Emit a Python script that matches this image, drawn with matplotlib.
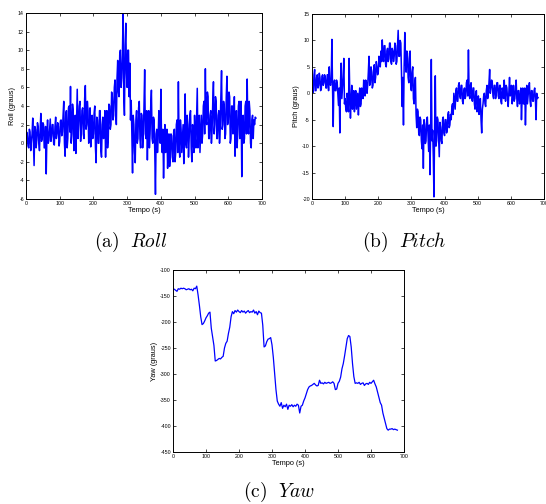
import numpy as np
import matplotlib
matplotlib.use("Agg")
import matplotlib.pyplot as plt

plt.rcParams['font.family'] = ['Liberation Sans', 'DejaVu Sans']
plt.rcParams['axes.unicode_minus'] = False
plt.rcParams['mathtext.fontset'] = 'cm'

fast_step = 2
yaw_step = 4

roll = [0.5, 1.2, 0.8, -0.3, -0.5, 1.5, 1.2, -0.8, 0.2, 1.0, 2.7, 0.3, -2.4, 1.8, 1.5, -0.5, 0.3, 2.2, 1.8, 0.0,
        -0.8, 1.5, 3.2, 0.2, 0.5, 2.2, 2.0, -0.5, -0.5, 1.8, -3.3, 0.8, 2.5, 0.0, 0.3, 1.5, 2.6, 0.2, 0.8, 2.0,
        2.0, 0.0, -0.2, 1.8, 2.8, 0.5, 1.0, 2.2, 1.8, -0.3, 0.2, 2.4, 2.5, 0.8, 1.2, 3.0, 4.5, 0.0, -1.4, 3.2,
        3.5, -0.5, 0.5, 3.8, 4.0, 1.2, 6.1, 0.0, 1.0, 4.2, 3.5, -0.8, 0.8, 3.0, -1.1, 2.5, 5.8, 0.5, 2.0, 4.0,
        4.5, 0.2, 1.5, 3.5, 3.8, 1.0, 0.5, 4.8, 6.2, 1.5, 2.0, 4.5, 3.5, 0.0, 1.0, 3.8, -0.4, 2.5, 3.0, 0.5,
        1.0, 3.2, 4.0, -0.5, -2.1, 2.8, 2.5, 0.0, 0.0, 3.5, 3.5, -0.8, -1.5, 2.0, 2.8, 0.5, 1.0, 3.5, -1.5, 2.2,
        3.5, -0.5, 0.5, 4.2, 4.0, 1.5, 2.0, 5.5, 5.0, 2.5, 3.0, 6.0, 6.8, 3.5, 2.0, 7.0, 8.9, 5.5, 5.0, 9.5,
        10.0, 6.0, 7.0, 9.5, 14.0, 5.0, 3.0, 10.5, 12.9, 7.5, 6.0, 10.0, 10.0, 5.0, 8.6, 2.5, 4.6, 1.0, -3.2, 3.0,
        2.0, -1.0, -2.1, 2.5, 3.5, 0.0, 0.5, 3.8, 4.5, 0.5, -0.5, 3.2, 3.0, -0.5, 1.0, 4.0, 7.9, 1.0, 0.5, 3.5,
        -1.8, 2.0, 3.5, -0.5, 1.0, 4.0, 5.7, 0.5, 0.0, 2.8, 2.5, -1.0, -5.5, 1.0, 1.5, -1.0, 0.5, 3.5, 3.0, 0.0,
        5.8, 0.5, -1.0, 1.5, -3.75, 0.0, 2.0, -1.0, 0.0, 1.5, -2.7, 0.0, 1.0, -2.5, -1.5, 1.0, 0.8, -1.5, -2.0, 1.2,
        1.5, -2.0, -1.0, 2.0, 2.5, -1.0, 6.6, 0.0, -1.5, 2.5, 1.5, -1.0, 0.5, 2.0, -2.2, 0.5, 5.3, 0.0, -0.5, 3.0,
        2.0, -1.5, 0.5, 3.0, 3.5, -0.5, -2.0, 2.0, 1.0, -1.0, 3.0, 0.5, -0.5, 2.5, 5.9, -0.5, 1.5, 3.0, -1.0, 1.0,
        3.0, 0.0, 1.0, 4.0, 4.5, 1.0, 8.0, 2.5, 2.0, 5.5, 5.0, 0.5, 0.5, 3.0, 3.5, 0.0, 1.5, 4.5, 6.6, 1.0,
        2.0, 5.0, 4.5, 0.5, 0.5, 3.0, 3.5, 0.0, 1.5, 5.0, 7.8, 1.5, 2.0, 4.5, 4.0, 0.5, 1.0, 5.0, 7.2, 2.0,
        2.5, 5.5, 5.0, 0.0, 0.5, 4.0, 4.0, 1.0, 2.0, 5.0, -1.4, 2.0, 3.5, -0.5, 1.0, 4.0, 4.5, 0.5, 2.0, 4.5,
        -3.6, 2.0, 3.0, 0.0, 0.5, 4.0, 4.5, 1.0, 6.9, 2.0, 1.0, 4.5, 3.5, 0.0, -0.5, 2.5, 3.0, 0.5, 2.5, 2.0,
        2.8, 2.7]

pitch = [0.5, 1.0, 0.2, 3.5, 4.5, 0.5, 0.5, 3.0, 3.5, 1.0, 1.5, 3.8, 3.0, 0.5, 0.8, 3.2, 3.5, 1.5, 2.0, 3.5,
         3.0, 1.0, 1.0, 3.5, 3.5, 0.5, 5.0, 2.0, 1.5, 2.5, 10.2, 1.0, -6.3, 2.0, 2.5, 0.5, 0.5, 2.5, 2.0, 0.0,
         -2.3, 1.0, -7.5, 2.0, 5.7, -1.0, 1.0, 3.0, 6.6, -2.0, -1.0, -3.0, -3.5, 0.0, -1.0, -3.5, 6.6, 0.0, -4.7, -1.0,
         1.5, -3.0, -2.0, 0.5, -3.5, -1.0, 0.5, -3.0, -1.5, 0.0, -4.1, -1.0, 1.0, -2.5, -2.0, 1.0, 0.5, -1.0, 2.5, 0.0,
         -0.5, 2.5, 2.0, 0.0, 1.5, 4.0, 7.0, 1.5, 2.0, 5.0, 4.0, 1.0, 1.5, 4.5, 5.4, 2.0, 3.0, 6.0, 5.0, 3.5,
         4.0, 7.0, 6.5, 5.0, 8.0, 6.0, 10.1, 7.0, 6.0, 9.0, 9.0, 5.5, 5.0, 8.0, 8.5, 6.0, 6.5, 9.5, 9.5, 6.0,
         5.5, 8.5, 8.0, 6.0, 7.0, 9.5, 9.0, 5.5, 6.0, 9.0, 11.9, 7.0, 7.0, 10.0, 9.5, 4.0, -2.5, 3.0, -6.0, 5.0,
         11.5, 6.0, 4.0, 8.0, 7.5, 3.0, 2.0, 6.5, 8.0, 1.0, 0.5, 4.0, 5.0, -1.0, -2.0, 2.0, 3.0, -4.0, -6.5, -3.0,
         -3.5, -7.5, -8.0, -4.5, -5.0, -9.0, -10.5, -6.0, -14.2, -5.0, -6.0, -9.5, -9.0, -5.0, -4.5, -8.0, -11.0, -6.0, -15.4, -7.0,
         6.4, -9.0, -7.0, -12.0, -19.6, -6.0, 3.3, -10.0, -9.0, -4.5, -5.0, -8.5, -12.0, -5.5, -6.5, -9.0, -9.5, -5.0, -4.5, -7.5,
         -8.0, -5.0, -5.0, -7.5, -7.0, -4.0, -3.5, -6.5, -6.0, -4.0, -5.0, -2.5, -2.0, -4.0, 0.0, -1.5, -3.0, 0.5, 1.0, -1.5,
         -1.5, 1.5, 2.0, -0.5, -1.0, 1.5, 1.5, -1.5, -2.0, 0.5, 1.0, -1.0, -0.5, 2.0, 2.5, -0.5, 8.2, 0.0, -1.0, 1.5,
         2.0, -1.0, -1.5, 1.0, 1.0, -2.0, -3.0, 0.0, 0.5, -3.5, -2.5, -0.5, -4.0, -2.0, -1.0, -5.0, -7.5, -3.0, -2.0, -0.5,
         0.0, -2.0, -2.5, 0.5, 1.5, -1.0, 0.0, 2.0, 4.5, 0.0, 1.0, 2.5, 2.0, -0.5, -1.0, 1.5, 1.5, -1.0, 0.0, 2.0,
         2.0, -0.5, -1.0, 1.5, 1.5, -1.5, -2.0, 1.0, 0.5, -1.0, 2.5, 0.0, -1.5, 1.5, 1.0, -1.0, -2.5, 0.5, 3.0, -0.5,
         0.0, 1.5, -2.0, -0.5, 1.5, -1.5, -1.0, 1.0, 2.5, -1.0, -2.5, 0.5, 0.5, -2.0, -1.5, 1.0, -5.0, -1.0, 1.0, -2.0,
         -2.0, 1.0, -6.0, -1.0, 1.5, -2.0, -0.5, 1.0, 2.0, -1.5, -2.5, 0.5, 0.5, -1.5, -1.5, 0.5, 1.0, -1.0, -5.0, 0.0,
         -1.0, -0.8]

yaw = [-136, -137, -139, -141, -136, -137, -135, -136, -135, -136,
       -138, -137, -136, -138, -137, -140, -135, -136, -131, -148,
       -168, -190, -205, -203, -198, -192, -188, -183, -181, -212,
       -228, -245, -275, -274, -272, -270, -271, -268, -266, -250,
       -241, -237, -222, -210, -190, -180, -184, -178, -181, -177,
       -180, -182, -178, -181, -179, -183, -180, -178, -182, -180,
       -181, -177, -183, -180, -186, -179, -182, -183, -206, -248,
       -246, -238, -233, -232, -230, -244, -268, -300, -330, -352,
       -358, -362, -355, -366, -360, -363, -358, -368, -360, -362,
       -359, -363, -360, -362, -358, -360, -375, -362, -360, -352,
       -346, -338, -330, -325, -323, -322, -320, -318, -321, -323,
       -322, -312, -318, -317, -319, -316, -318, -317, -316, -318,
       -317, -315, -318, -330, -329, -318, -314, -306, -290, -280,
       -265, -248, -232, -226, -228, -248, -280, -305, -318, -317,
       -318, -316, -320, -318, -317, -322, -319, -318, -320, -316,
       -318, -315, -312, -319, -325, -335, -345, -355, -360, -375,
       -385, -395, -405, -408, -406, -406, -405, -407, -406, -407,
       -408]

xticks = [0, 100, 200, 300, 400, 500, 600, 700]
roll_yticks = list(range(-6, 15, 2))
pitch_yticks = list(range(-20, 16, 5))
yaw_yticks = list(range(-450, -99, 50))

t_fast = np.arange(len(roll)) * fast_step
t_yaw = np.arange(len(yaw)) * yaw_step

W, H = 546, 504
fig = plt.figure(figsize=(W / 100, H / 100), dpi=100)


def make_ax(px_left, px_top, px_right, px_bottom):
    return fig.add_axes([px_left / W, 1 - px_bottom / H,
                         (px_right - px_left) / W, (px_bottom - px_top) / H])


def style(ax, yticks, ylabel):
    ax.set_xlim(0, 700)
    ax.set_ylim(yticks[0], yticks[-1])
    ax.set_xticks(xticks)
    ax.set_yticks(yticks)
    ax.tick_params(direction='in', top=True, right=True, length=2.5,
                   width=0.5, labelsize=3.8, pad=1.5, colors='black')
    for s in ax.spines.values():
        s.set_linewidth(0.7)
    ax.set_xlabel('Tempo (s)', fontsize=5.3, labelpad=0.5)
    ax.set_ylabel(ylabel, fontsize=5.3, labelpad=1.5)


ax1 = make_ax(26, 13, 262, 199)
ax1.plot(t_fast, roll, color='#0000ff', lw=1.1)
style(ax1, roll_yticks, 'Roll (graus)')

ax2 = make_ax(312, 14, 544, 199)
ax2.plot(t_fast, pitch, color='#0000ff', lw=1.1)
style(ax2, pitch_yticks, 'Pitch (graus)')

ax3 = make_ax(173, 270, 404, 452)
ax3.plot(t_yaw, yaw, color='#0000ff', lw=0.9)
style(ax3, yaw_yticks, 'Yaw (graus)')

fig.text(131 / W, 1 - 242 / H, r'$\mathrm{(a)}\ \ \mathit{Roll}$', ha='center', va='center', fontsize=14)
fig.text(404 / W, 1 - 242 / H, r'$\mathrm{(b)}\ \ \mathit{Pitch}$', ha='center', va='center', fontsize=14)
fig.text(279 / W, 1 - 492 / H, r'$\mathrm{(c)}\ \ \mathit{Yaw}$', ha='center', va='center', fontsize=14)

fig.savefig('out.png', dpi=100)
